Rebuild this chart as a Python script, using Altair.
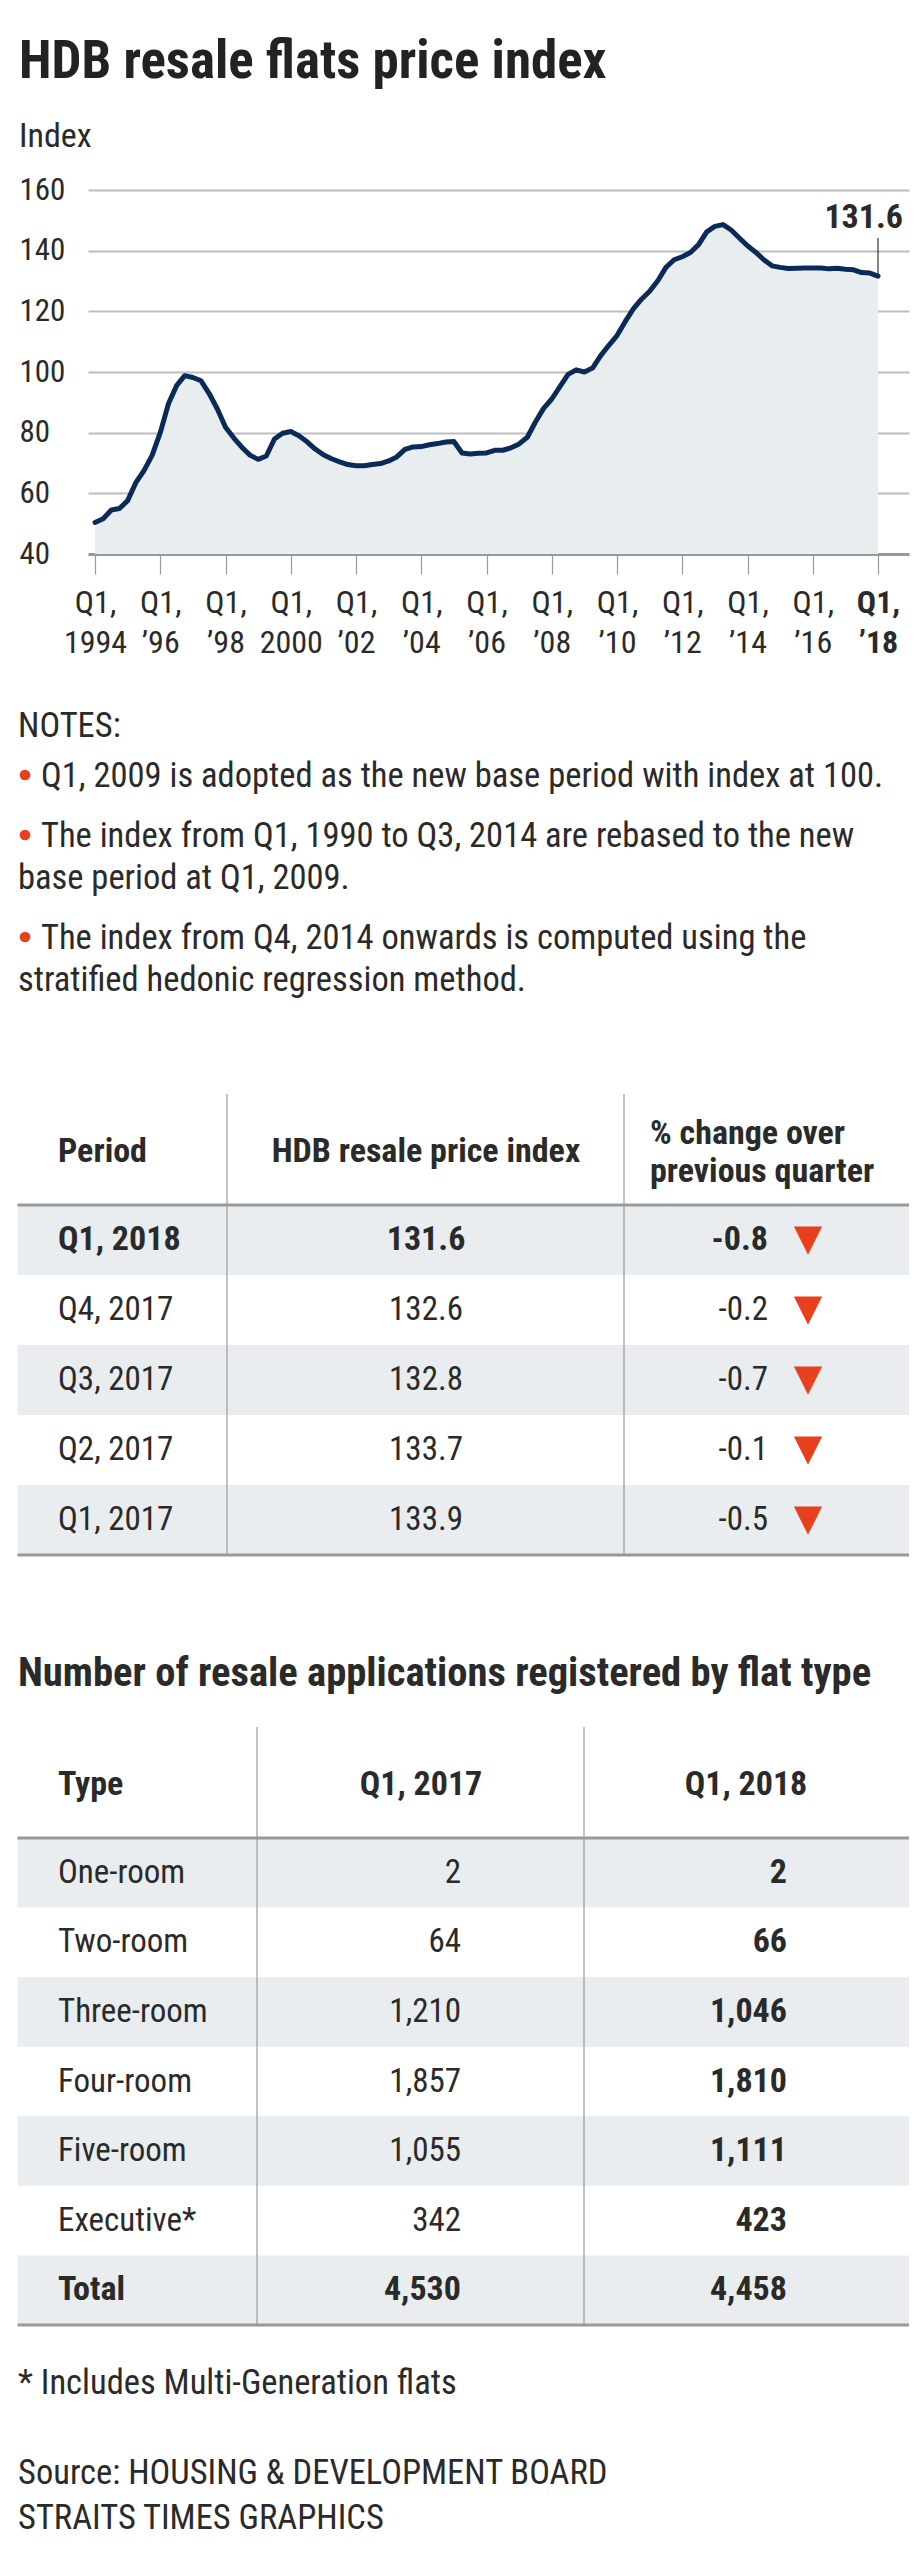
import altair as alt
import pandas as pd

# ---------------- data ----------------
start_year = 1994
index_values = [
    50.4, 51.6, 54.5, 55.0,      # 1994
    57.6, 63.5, 67.5, 72.5,      # 1995
    80.0, 89.5, 95.5, 98.8,      # 1996
    98.2, 97.1, 92.9, 87.8,      # 1997
    81.8, 78.3, 75.2, 72.6,      # 1998
    71.2, 72.3, 77.9, 79.8,      # 1999
    80.4, 79.0, 77.0, 74.6,      # 2000
    72.7, 71.4, 70.4, 69.5,      # 2001
    69.1, 69.1, 69.5, 69.8,      # 2002
    70.7, 72.0, 74.5, 75.3,      # 2003
    75.4, 76.0, 76.4, 76.9,      # 2004
    77.1, 73.3, 73.0, 73.2,      # 2005
    73.3, 74.2, 74.2, 75.0,      # 2006
    76.3, 78.5, 83.5, 88.0,      # 2007
    91.1, 95.2, 99.2, 100.7,     # 2008
    100.0, 101.3, 105.4, 108.8,  # 2009
    112.0, 116.6, 120.8, 124.0,  # 2010
    126.6, 130.1, 134.5, 137.0,  # 2011
    138.0, 139.4, 142.0, 146.2,  # 2012
    148.0, 148.6, 146.8, 144.2,  # 2013
    141.6, 139.5, 137.0, 135.0,  # 2014
    134.5, 134.1, 134.2, 134.3,  # 2015
    134.3, 134.3, 134.0, 134.2,  # 2016
    133.9, 133.7, 132.8, 132.6,  # 2017
    131.6,                       # 2018 Q1
]
tick_years = list(range(1994, 2019, 2))
y_ticks = [40, 60, 80, 100, 120, 140, 160]

chart_title = "HDB resale flats price index"
y_title = "Index"

notes_title = "NOTES:"
notes = [
    ["Q1, 2009 is adopted as the new base period with index at 100."],
    ["The index from Q1, 1990 to Q3, 2014 are rebased to the new",
     "base period at Q1, 2009."],
    ["The index from Q4, 2014 onwards is computed using the",
     "stratified hedonic regression method."],
]

t1_headers = ["Period", "HDB resale price index", ["% change over", "previous quarter"]]
t1_periods = ["Q1, 2018", "Q4, 2017", "Q3, 2017", "Q2, 2017", "Q1, 2017"]
t1_index = [131.6, 132.6, 132.8, 133.7, 133.9]
t1_change = [-0.8, -0.2, -0.7, -0.1, -0.5]

t2_title = "Number of resale applications registered by flat type"
t2_headers = ["Type", "Q1, 2017", "Q1, 2018"]
t2_types = ["One-room", "Two-room", "Three-room", "Four-room", "Five-room", "Executive*", "Total"]
t2_2017 = [2, 64, 1210, 1857, 1055, 342, 4530]
t2_2018 = [2, 66, 1046, 1810, 1111, 423, 4458]

footnote = "* Includes Multi-Generation flats"
source_lines = ["Source: HOUSING & DEVELOPMENT BOARD", "STRAITS TIMES GRAPHICS"]

# ---------------- style ----------------
FONT = "Liberation Sans Narrow, 'Roboto Condensed', Roboto, sans-serif"
TEXT = "#2a2a2a"
BAND = "#e9edef"
GRID = "#bdbdbd"
LINE = "#0c2a58"
AREA = "#e8edef"
RED = "#e8401c"
RULE = "#999999"
BODY = 34.5

OX, OY = 87, 656          # page position of the lower panel origin


def bx(x):
    return x - OX


def by(y):
    return y - OY


# ---------------- line chart ----------------
W, H = 821, 364
df = pd.DataFrame({"t": [start_year + i / 4 for i in range(len(index_values))],
                   "v": index_values})

xscale = alt.Scale(domain=[1993.785, 2018.95], nice=False, zero=False)
yscale = alt.Scale(domain=[40, 160], nice=False, zero=False)

label_expr = ("['Q1,', (datum.value % 100 == 0 || datum.value == 1994) ? toString(datum.value)"
              " : '\u2019' + substring(toString(datum.value), 2, 4)]")

x_enc = alt.X("t:Q", scale=xscale, axis=alt.Axis(
    values=tick_years, labelExpr=label_expr, grid=False, title=None,
    domain=True, domainColor=RULE, domainWidth=3,
    ticks=True, tickColor=RULE, tickWidth=1.2, tickSize=20,
    labelFont=FONT, labelFontSize=32, labelColor=TEXT, labelPadding=13,
    labelLineHeight=40, labelFlush=False, labelBound=False,
    labelFontWeight={"condition": {"test": "datum.value == 2018", "value": "bold"}, "value": "normal"},
))
y_enc = alt.Y("v:Q", scale=yscale, axis=alt.Axis(
    values=y_ticks, grid=True, gridColor=GRID, gridWidth=1.8, ticks=False, domain=False,
    title=None, labelAlign="left", labelPadding=69, labelFont=FONT, labelFontSize=31,
    labelColor=TEXT,
))

base = alt.Chart(df)
area = base.mark_area(color=AREA, opacity=1).encode(x=x_enc, y=y_enc, y2=alt.datum(40))
line = base.mark_line(color=LINE, strokeWidth=5, strokeJoin="round", strokeCap="round").encode(
    x=x_enc, y=y_enc)

last = pd.DataFrame({"t": [df["t"].iloc[-1]], "v": [index_values[-1]],
                     "lab": [f"{index_values[-1]:.1f}"]})
ann_rule = alt.Chart(last).mark_rule(color="#333333", strokeWidth=1.2).encode(
    x=x_enc, y=y_enc, y2=alt.value(48))
ann_text = alt.Chart(last).mark_text(font=FONT, fontSize=34, fontWeight="bold", align="right",
                                     baseline="middle", dx=25, color=TEXT).encode(
    x=x_enc, y=alt.value(28), text="lab:N")

top = alt.layer(area, line, ann_rule, ann_text).properties(
    width=W, height=H,
    title=alt.TitleParams(chart_title, subtitle=y_title, anchor="start", frame="bounds",
                          font=FONT, fontSize=53, fontWeight="bold", color="#222222",
                          subtitleFont=FONT, subtitleFontSize=34, subtitleColor=TEXT,
                          subtitlePadding=31, offset=20),
)

# ---------------- lower panel ----------------
dummy = pd.DataFrame({"a": [0]})


def txt(s, x, y, size=BODY, weight="normal", align="left", color=TEXT):
    return alt.Chart(dummy).mark_text(text=s, font=FONT, fontSize=size, fontWeight=weight,
                                      align=align, baseline="middle", color=color).encode(
        x=alt.value(bx(x)), y=alt.value(by(y)))


def hrule(x1, x2, y, width, color=RULE):
    return alt.Chart(dummy).mark_rule(color=color, strokeWidth=width).encode(
        x=alt.value(bx(x1)), x2=alt.value(bx(x2)), y=alt.value(by(y)))


def vrule(x, y1, y2, width=1.2, color=RULE):
    return alt.Chart(dummy).mark_rule(color=color, strokeWidth=width).encode(
        x=alt.value(bx(x)), y=alt.value(by(y1)), y2=alt.value(by(y2)))


layers = []

# notes
layers.append(txt(notes_title, 17, 725))
bullet_y = [775, 835, 937]
for yb, lines in zip(bullet_y, notes):
    layers.append(alt.Chart(dummy).mark_circle(color=RED, size=115, opacity=1).encode(
        x=alt.value(bx(24)), y=alt.value(by(yb - 2))))
    layers.append(txt(lines[0], 40, yb))
    for k, extra in enumerate(lines[1:]):
        layers.append(txt(extra, 17, yb + 42 * (k + 1)))

# table 1
T_L, T_R = 16.5, 908
t1 = pd.DataFrame({"i": range(len(t1_periods)), "period": t1_periods,
                   "idx": t1_index, "chg": t1_change})
t1["r0"] = t1["i"]
t1["r1"] = t1["i"] + 1
t1["rm"] = t1["i"] + 0.5
s1 = alt.Scale(domain=[0, len(t1_periods)], range=[by(1203), by(1553)], nice=False, zero=False)

layers.append(alt.Chart(t1).transform_filter("datum.i % 2 == 0").mark_rect(color=BAND).encode(
    x=alt.value(bx(T_L)), x2=alt.value(bx(T_R)),
    y=alt.Y("r0:Q", scale=s1, axis=None), y2="r1:Q"))


def cells(data, scale, field, x, align, weight, test, fmt=None):
    ch = alt.Chart(data).transform_filter(test)
    name = field.split(":")[0]
    if fmt:
        ch = ch.transform_calculate(
            lab=f"replace(format(datum.{name}, '{fmt}'), '\u2212', '-')")
        text = alt.Text("lab:N")
    else:
        text = alt.Text(field)
    return ch.mark_text(
        font=FONT, fontSize=34 if weight == "bold" else 33, fontWeight=weight,
        align=align, baseline="middle", color=TEXT).encode(
        x=alt.value(bx(x)), y=alt.Y("rm:Q", scale=scale, axis=None), text=text)


for weight, test in [("bold", "datum.i == 0"), ("normal", "datum.i != 0")]:
    layers.append(cells(t1, s1, "period:N", 57, "left", weight, test))
    layers.append(cells(t1, s1, "idx:Q", 425, "center", weight, test, ".1f"))
    layers.append(cells(t1, s1, "chg:Q", 767, "right", weight, test, ".1f"))

layers.append(alt.Chart(t1).mark_point(shape="M-1,-0.95L1,-0.95L0,1.05Z", filled=True, size=800,
                                       color=RED, opacity=1, strokeWidth=0).encode(
    x=alt.value(bx(807)), y=alt.Y("rm:Q", scale=s1, axis=None)))

layers.append(txt(t1_headers[0], 57, 1150, 34, "bold"))
layers.append(txt(t1_headers[1], 425, 1150, 34, "bold", "center"))
layers.append(txt(t1_headers[2][0], 649, 1132, 34, "bold"))
layers.append(txt(t1_headers[2][1], 649, 1170, 34, "bold"))
layers.append(vrule(226, 1092, 1553))
layers.append(vrule(623, 1092, 1553))
layers.append(hrule(T_L, T_R, 1203, 3))
layers.append(hrule(T_L, T_R, 1553, 3))

# table 2
layers.append(txt(t2_title, 17, 1672, 40.6, "bold"))
t2 = pd.DataFrame({"i": range(len(t2_types)), "ftype": t2_types,
                   "a": t2_2017, "b": t2_2018})
t2["r0"] = t2["i"]
t2["r1"] = t2["i"] + 1
t2["rm"] = t2["i"] + 0.5
s2 = alt.Scale(domain=[0, len(t2_types)], range=[by(1836), by(2323)], nice=False, zero=False)
last_i = len(t2_types) - 1

layers.append(alt.Chart(t2).transform_filter("datum.i % 2 == 0").mark_rect(color=BAND).encode(
    x=alt.value(bx(T_L)), x2=alt.value(bx(T_R)),
    y=alt.Y("r0:Q", scale=s2, axis=None), y2="r1:Q"))

for weight, test in [("bold", f"datum.i == {last_i}"), ("normal", f"datum.i != {last_i}")]:
    layers.append(cells(t2, s2, "ftype:N", 57, "left", weight, test))
    layers.append(cells(t2, s2, "a:Q", 460, "right", weight, test, ","))
layers.append(cells(t2, s2, "b:Q", 786, "right", "bold", "true", ","))

layers.append(txt(t2_headers[0], 57, 1783, 34, "bold"))
layers.append(txt(t2_headers[1], 420, 1783, 34, "bold", "center"))
layers.append(txt(t2_headers[2], 745, 1783, 34, "bold", "center"))
layers.append(vrule(256, 1725, 2323))
layers.append(vrule(583, 1725, 2323))
layers.append(hrule(T_L, T_R, 1836, 3))
layers.append(hrule(T_L, T_R, 2323, 3))

# footer
layers.append(txt(footnote, 17, 2382))
layers.append(txt(source_lines[0], 17, 2472))
layers.append(txt(source_lines[1], 17, 2517))

bottom = alt.layer(*layers).resolve_scale(x="independent", y="independent").properties(
    width=W, height=1880)

chart = alt.vconcat(top, bottom, spacing=0).properties(
    padding={"left": 8, "top": 28, "right": 0, "bottom": 0},
    background="white",
).configure_view(stroke=None)

chart.save("out.html", embed_options={"renderer": "svg", "actions": False})
